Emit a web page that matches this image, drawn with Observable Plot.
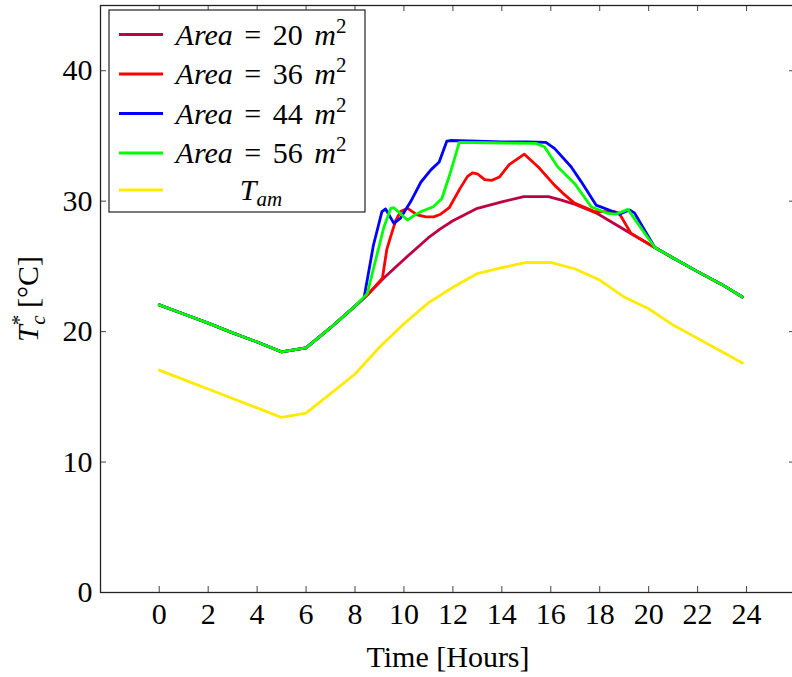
<!DOCTYPE html>
<html>
<head>
<meta charset="utf-8">
<script src="https://cdn.jsdelivr.net/npm/d3@7"></script>
<script src="https://cdn.jsdelivr.net/npm/@observablehq/plot@0.6"></script>
<style>
  html, body { margin: 0; padding: 0; background: #fff; overflow: hidden; }
  #chart { width: 792px; height: 677px; overflow: hidden; }
  text { white-space: pre; }
</style>
</head>
<body>
<div id="chart"></div>
<script>
// Tick values
const hourTicks = [0, 2, 4, 6, 8, 10, 12, 14, 16, 18, 20, 22, 24];
const tempTicks = [0, 10, 20, 30, 40];

// Collector temperature T*_c for four collector areas, and ambient temperature
const area20Hours = [0, 1, 2, 3, 4, 5, 6, 7, 8, 8.5, 9.2, 10.1, 11, 11.5, 12, 13, 14, 14.9, 15.9, 16.4, 17, 17.9, 19.2, 20.25, 21, 22, 23, 23.83];
const area20Temp  = [22.05, 21.35, 20.65, 19.9, 19.2, 18.45, 18.75, 20.3, 21.95, 22.8, 24.15, 25.7, 27.2, 27.9, 28.5, 29.45, 29.95, 30.35, 30.35, 30.1, 29.75, 29.05, 27.6, 26.45, 25.65, 24.6, 23.6, 22.65];

const area36Hours = [0, 1, 2, 3, 4, 5, 6, 7, 8, 8.5, 9.12, 9.3, 9.46, 9.66, 9.86, 10.15, 10.54, 10.9, 11.22, 11.5, 11.85, 12.3, 12.6, 12.8, 13.0, 13.3, 13.6, 13.9, 14.3, 14.92, 15.5, 16.15, 16.5, 16.97, 17.79, 18.6, 18.8, 19.28, 20.25, 21, 22, 23, 23.83];
const area36Temp  = [22.05, 21.35, 20.65, 19.9, 19.2, 18.45, 18.75, 20.3, 21.95, 22.8, 24.1, 26.3, 27.3, 28.5, 29.2, 29.45, 28.95, 28.8, 28.8, 29.0, 29.5, 31.0, 31.9, 32.17, 32.1, 31.65, 31.6, 31.85, 32.8, 33.6, 32.6, 31.23, 30.6, 29.85, 29.2, 29.2, 29.06, 27.53, 26.45, 25.65, 24.6, 23.6, 22.65];

const area44Hours = [0, 1, 2, 3, 4, 5, 6, 7, 8, 8.37, 8.75, 9.1, 9.25, 9.59, 9.86, 10.27, 10.69, 11.1, 11.44, 11.75, 11.9, 13, 14, 15, 15.8, 16.15, 16.83, 17.24, 17.85, 18.46, 18.8, 19.22, 19.42, 20.25, 21, 22, 23, 23.83];
const area44Temp  = [22.05, 21.35, 20.65, 19.9, 19.2, 18.45, 18.75, 20.3, 21.95, 22.6, 26.6, 29.2, 29.4, 28.3, 28.7, 29.95, 31.45, 32.4, 33.0, 34.6, 34.65, 34.6, 34.55, 34.55, 34.5, 34.05, 32.64, 31.5, 29.7, 29.27, 29.01, 29.32, 29.1, 26.45, 25.65, 24.6, 23.6, 22.65];

const area56Hours = [0, 1, 2, 3, 4, 5, 6, 7, 8, 8.5, 8.91, 9.18, 9.46, 9.59, 10.14, 10.45, 10.75, 11.2, 11.55, 11.9, 12.26, 13.4, 14.5, 15.4, 15.74, 16.28, 16.97, 17.65, 18.33, 18.67, 19.15, 20.25, 21, 22, 23, 23.83];
const area56Temp  = [22.05, 21.35, 20.65, 19.9, 19.2, 18.45, 18.75, 20.3, 21.95, 22.9, 26.0, 28.0, 29.45, 29.5, 28.55, 28.95, 29.25, 29.57, 30.2, 32.2, 34.5, 34.48, 34.45, 34.43, 34.17, 32.64, 31.36, 29.57, 29.06, 29.01, 29.37, 26.45, 25.65, 24.6, 23.6, 22.65];

const ambientHours = [0, 1, 2, 3, 4, 5, 6, 7, 8, 9, 10, 11, 12, 13, 14, 15, 16, 17, 18, 19, 20, 21, 22, 23, 23.83];
const ambientTemp  = [17.05, 16.32, 15.6, 14.87, 14.15, 13.42, 13.75, 15.25, 16.75, 18.8, 20.6, 22.2, 23.4, 24.45, 24.9, 25.3, 25.3, 24.8, 23.95, 22.65, 21.75, 20.5, 19.48, 18.45, 17.6];

const seriesNames  = ["Area = 20 m2", "Area = 36 m2", "Area = 44 m2", "Area = 56 m2", "T_am"];
const seriesColors = ["#bf0040", "#ff0000", "#0000ff", "#00ff00", "#ffeb00"];
const seriesHours  = [area20Hours, area36Hours, area44Hours, area56Hours, ambientHours];
const seriesTemps  = [area20Temp, area36Temp, area44Temp, area56Temp, ambientTemp];

const FONT = "'Liberation Serif', 'DejaVu Serif', serif";
const FS = 30;
const W = 796, H = 677;
const M = {left: 100, right: 1, top: 5, bottom: 85};
const plotW = W - M.left - M.right;
const plotH = H - M.top - M.bottom;
const TICK = 6;

// long-format table, one row per sample
const rows = seriesNames.flatMap((name, i) =>
  seriesHours[i].map((h, j) => ({series: name, hour: h, temp: seriesTemps[i][j]}))
);

const lineMarks = seriesNames.map((name, i) =>
  Plot.line(rows.filter(d => d.series === name), {
    x: "hour", y: "temp", stroke: seriesColors[i], strokeWidth: 2.8,
    strokeLinejoin: "round", curve: "linear"
  })
);

const plot = Plot.plot({
  width: W, height: H,
  marginLeft: M.left, marginRight: M.right, marginTop: M.top, marginBottom: M.bottom,
  x: {domain: [-2.4, 26]},
  y: {domain: [0, 45]},
  style: {fontFamily: FONT, fontSize: FS + "px", color: "#000", background: "#fff", maxWidth: "none"},
  marks: [
    // inward ticks on all four sides
    Plot.tickX(hourTicks, {x: d => d, insetTop: plotH - TICK, stroke: "#444", strokeWidth: 1}),
    Plot.tickX(hourTicks, {x: d => d, insetBottom: plotH - TICK, stroke: "#444", strokeWidth: 1}),
    Plot.tickY(tempTicks, {y: d => d, insetRight: plotW - TICK, stroke: "#444", strokeWidth: 1}),
    Plot.tickY(tempTicks, {y: d => d, insetLeft: plotW - TICK, stroke: "#444", strokeWidth: 1}),
    Plot.axisX(hourTicks, {tickSize: 0, tickPadding: 10, label: null, fontSize: FS}),
    Plot.axisY(tempTicks, {tickSize: 0, tickPadding: 8, label: null, fontSize: FS}),
    ...lineMarks,
    Plot.frame({stroke: "#222", strokeWidth: 1.3}),
    Plot.text(["Time [Hours]"], {text: d => d, frameAnchor: "bottom", lineAnchor: "middle", textAnchor: "middle", dy: 65, fontSize: FS}),
    Plot.text(["T*c [°C]"], {text: d => d, frameAnchor: "left", lineAnchor: "middle", textAnchor: "middle", dx: -72, rotate: -90, fontSize: FS})
  ]
});

document.getElementById("chart").appendChild(plot);

// typeset math-style text with tspans
function typeset(sel, parts) {
  sel.text(null);
  for (const p of parts) {
    const s = sel.append("tspan").text(p.text);
    if (p.italic) s.attr("font-style", "italic");
    if (p.size) s.attr("font-size", p.size);
    if (p.dx) s.attr("dx", p.dx);
    if (p.dy) s.attr("dy", p.dy);
  }
}

const svg = d3.select(plot);
svg.selectAll("text").filter(function () { return this.textContent === "T*c [°C]"; })
  .each(function () {
    typeset(d3.select(this), [
      {text: "T", italic: true},
      {text: "*", size: 21, dy: -12},
      {text: "c", italic: true, size: 21, dx: -10, dy: 19},
      {text: " [°C]", dy: -7}
    ]);
  });

// legend box in the upper-left corner of the frame
const legendParts = [
  [{text: "Area", italic: true}, {text: " = 20 "}, {text: "m", italic: true}, {text: "2", size: 21, dy: -12}],
  [{text: "Area", italic: true}, {text: " = 36 "}, {text: "m", italic: true}, {text: "2", size: 21, dy: -12}],
  [{text: "Area", italic: true}, {text: " = 44 "}, {text: "m", italic: true}, {text: "2", size: 21, dy: -12}],
  [{text: "Area", italic: true}, {text: " = 56 "}, {text: "m", italic: true}, {text: "2", size: 21, dy: -12}],
  [{text: "T", italic: true}, {text: "am", italic: true, size: 21, dy: 6}]
];
const legendRowY = [34.5, 74, 113.5, 153, 190];
const legend = svg.append("g").attr("font-family", FONT).attr("font-size", FS);
legend.append("rect")
  .attr("x", 109).attr("y", 10).attr("width", 256).attr("height", 202)
  .attr("fill", "#fff").attr("stroke", "#222").attr("stroke-width", 1.2);
seriesNames.forEach((name, i) => {
  const y = legendRowY[i];
  legend.append("line")
    .attr("x1", 119).attr("x2", 163).attr("y1", y).attr("y2", y)
    .attr("stroke", seriesColors[i]).attr("stroke-width", 2.8);
  const t = legend.append("text")
    .attr("x", 261).attr("y", y + 10).attr("text-anchor", "middle")
    .attr("word-spacing", 4).attr("fill", "#000");
  typeset(t, legendParts[i]);
});
</script>
</body>
</html>
